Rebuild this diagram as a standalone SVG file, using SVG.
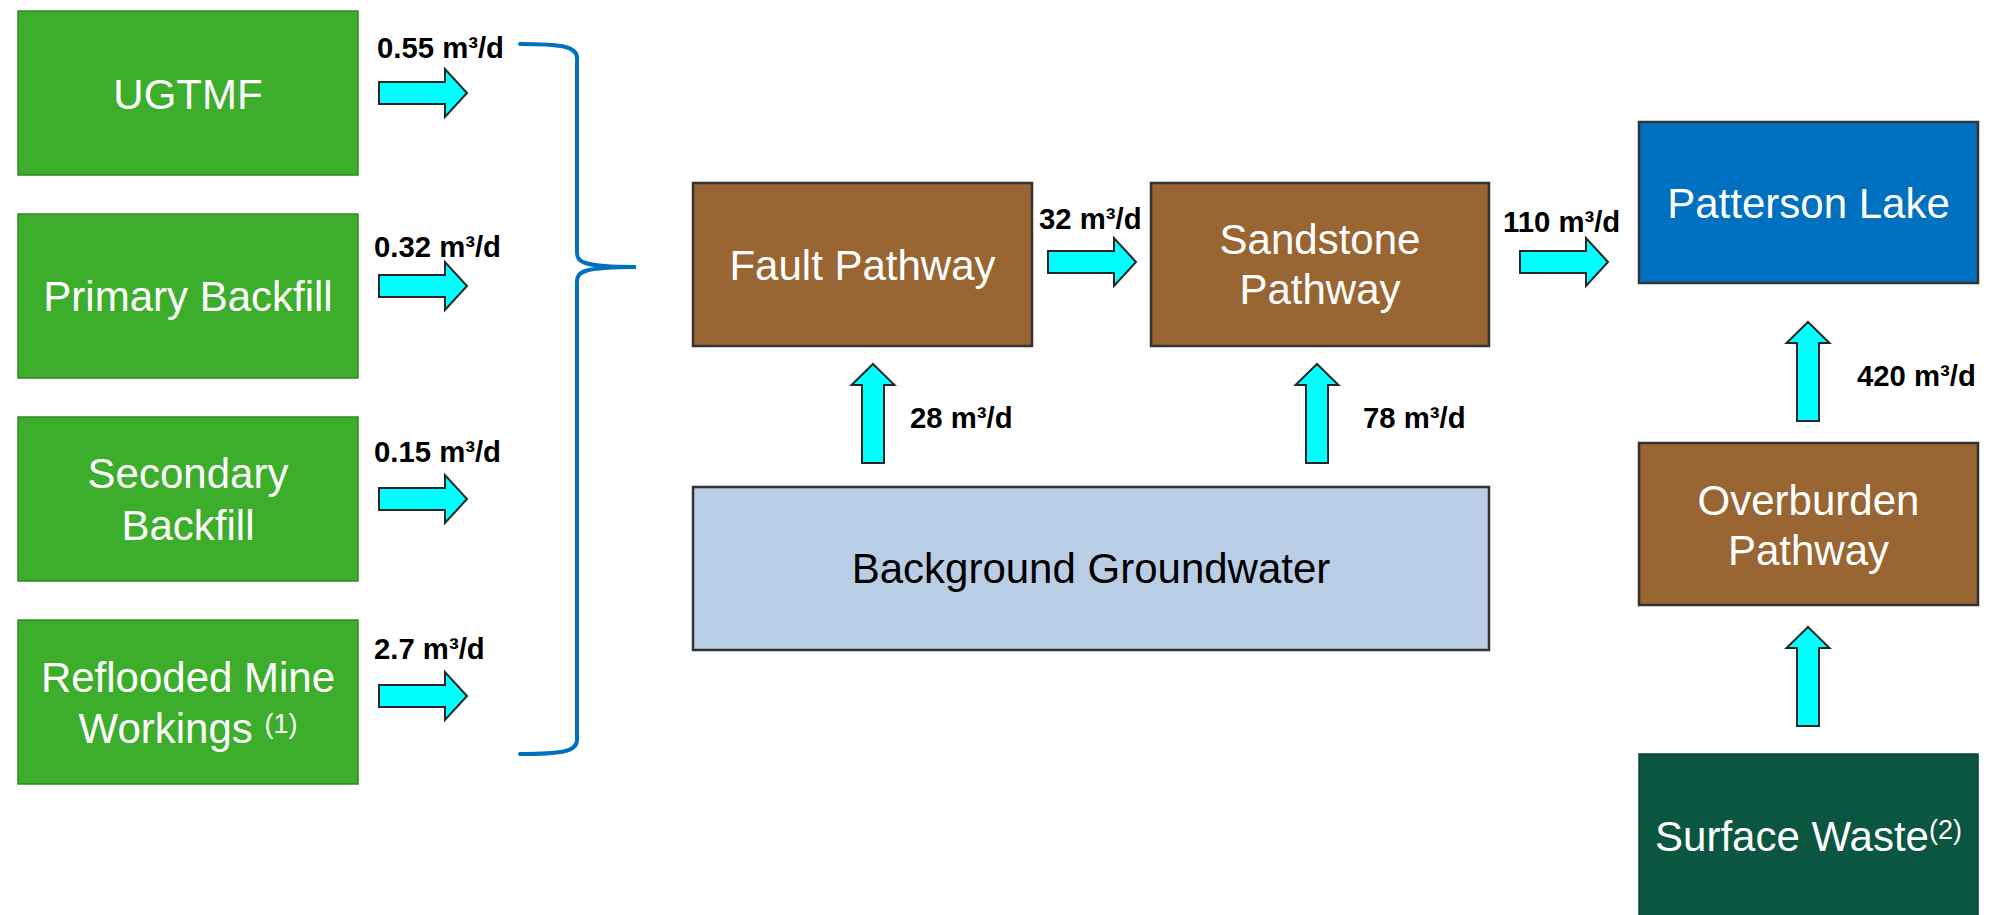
<svg xmlns="http://www.w3.org/2000/svg" xmlns:xlink="http://www.w3.org/1999/xlink" width="2002" height="915" viewBox="0 0 2002 915">
<style>
.green{fill:#3DAD2C;stroke:#2E8A20;stroke-width:1.5}
.brown{fill:#996633;stroke:#333333;stroke-width:2.5}
.bg{fill:#B9CDE5;stroke:#333333;stroke-width:2.5}
.lake{fill:#0070C0;stroke:#333333;stroke-width:2.5}
.waste{fill:#0B5640;stroke:#0A4433;stroke-width:1.5}
.nt{font-family:"Liberation Sans",Arial,sans-serif;font-size:42px;fill:#FFFFFF;text-anchor:middle}
.dark{fill:#000000}
.sup{font-size:27px}
.lbl{font-family:"Liberation Sans",Arial,sans-serif;font-size:29.3px;font-weight:bold;fill:#000000}
.arr{fill:#00FFFF;stroke:#262626;stroke-width:2;stroke-linejoin:miter}
.brace{fill:none;stroke:#0070C0;stroke-width:4;stroke-linecap:round}
</style>
<defs>
<path id="arR" d="M0,-11 H66 V-24 L88,0 L66,24 V11 H0 Z"/>
<path id="arU" d="M0,0 L21.5,21 H11 V99 H-11 V21 H-21.5 Z"/>
</defs>

<g id="n-ugtmf">
<rect class="green" x="18" y="11" width="340" height="164"/>
<text class="nt" x="188" y="109">UGTMF</text>
</g>
<g id="n-primary">
<rect class="green" x="18" y="214" width="340" height="164"/>
<text class="nt" x="188" y="311">Primary Backfill</text>
</g>
<g id="n-secondary">
<rect class="green" x="18" y="417" width="340" height="164"/>
<text class="nt" x="188" y="488">Secondary</text>
<text class="nt" x="188" y="540">Backfill</text>
</g>
<g id="n-reflooded">
<rect class="green" x="18" y="620" width="340" height="164"/>
<text class="nt" x="188" y="692">Reflooded Mine</text>
<text class="nt" x="188" y="743">Workings <tspan class="sup" dy="-10">(1)</tspan></text>
</g>

<g id="n-fault">
<rect class="brown" x="693" y="183" width="339" height="163"/>
<text class="nt" x="862.5" y="280">Fault Pathway</text>
</g>
<g id="n-sandstone">
<rect class="brown" x="1151" y="183" width="338" height="163"/>
<text class="nt" x="1320" y="254">Sandstone</text>
<text class="nt" x="1320" y="304">Pathway</text>
</g>
<g id="n-background">
<rect class="bg" x="693" y="487" width="796" height="163"/>
<text class="nt dark" x="1091" y="583">Background Groundwater</text>
</g>

<g id="n-patterson">
<rect class="lake" x="1639" y="122" width="339" height="161"/>
<text class="nt" x="1808.5" y="218">Patterson Lake</text>
</g>
<g id="n-overburden">
<rect class="brown" x="1639" y="443" width="339" height="162"/>
<text class="nt" x="1808.5" y="515">Overburden</text>
<text class="nt" x="1808.5" y="565">Pathway</text>
</g>
<g id="n-surface">
<rect class="waste" x="1639" y="754" width="339" height="166"/>
<text class="nt" x="1808.5" y="851">Surface Waste<tspan class="sup" dy="-12">(2)</tspan></text>
</g>

<g id="connectors">
<path class="brace" d="M520,44 C560,44 577,46 577,58 L577,252 C577,262 582,267 636,267 C582,267 577,272 577,282 L577,740 C577,752 560,754 520,754"/>
<use class="arr" xlink:href="#arR" x="379" y="93"/>
<use class="arr" xlink:href="#arR" x="379" y="286"/>
<use class="arr" xlink:href="#arR" x="379" y="499"/>
<use class="arr" xlink:href="#arR" x="379" y="696"/>
<use class="arr" xlink:href="#arR" x="1048" y="262"/>
<use class="arr" xlink:href="#arR" x="1520" y="262"/>
<use class="arr" xlink:href="#arU" x="873" y="364"/>
<use class="arr" xlink:href="#arU" x="1317" y="364"/>
<use class="arr" xlink:href="#arU" x="1808" y="322"/>
<use class="arr" xlink:href="#arU" x="1808" y="627"/>
<text class="lbl" x="377" y="58">0.55 m³/d</text>
<text class="lbl" x="374" y="257">0.32 m³/d</text>
<text class="lbl" x="374" y="462">0.15 m³/d</text>
<text class="lbl" x="374" y="659">2.7 m³/d</text>
<text class="lbl" x="1039" y="229">32 m³/d</text>
<text class="lbl" x="1503" y="232">110 m³/d</text>
<text class="lbl" x="910" y="428">28 m³/d</text>
<text class="lbl" x="1363" y="428">78 m³/d</text>
<text class="lbl" x="1857" y="386">420 m³/d</text>
</g>
</svg>
